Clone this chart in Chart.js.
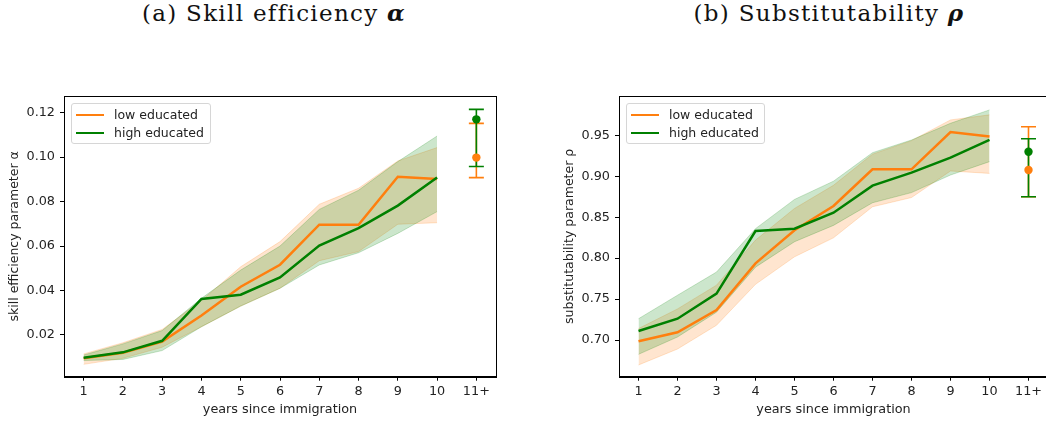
<!DOCTYPE html>
<html>
<head>
<meta charset="utf-8">
<script src="https://cdn.jsdelivr.net/npm/chart.js@4.4.1/dist/chart.umd.min.js"></script>
<style>
  body { margin: 0; width: 1046px; height: 422px; overflow: hidden; background: #fff; position: relative; }
  canvas { position: absolute; top: 90px; }
  .ttl { position: absolute; top: -1px; width: 400px; text-align: center; font-family: "DejaVu Serif", serif; font-size: 23px; letter-spacing: 1.3px; line-height: 28px; color: #111; }
  .leg { position: absolute; top: 103px; height: 39px; border: 1px solid #d6d6d6; border-radius: 3px; background: rgba(255,255,255,0.8);
         font-family: "DejaVu Sans", sans-serif; font-size: 12.5px; color: #222; }
  .row { position: absolute; left: 4px; height: 16px; line-height: 16px; white-space: nowrap; }
  .sw { display: inline-block; width: 28px; height: 0; border-top: 2.5px solid; vertical-align: middle; margin-right: 10px; position: relative; top: -1px; }
</style>
</head>
<body>
<div class="ttl" style="left:74px">(a) Skill efficiency <b><i>α</i></b></div>
<div class="ttl" style="left:629px">(b) Substitutability <b><i>ρ</i></b></div>
<canvas id="chartA" width="510" height="332" style="left:0px"></canvas>
<canvas id="chartB" width="510" height="332" style="left:555px"></canvas>
<div class="leg" style="left:71px;width:138px">
  <div class="row" style="top:3px"><span class="sw" style="border-color:#ff7f0e"></span>low educated</div>
  <div class="row" style="top:21px"><span class="sw" style="border-color:#008000"></span>high educated</div>
</div>
<div class="leg" style="left:626px;width:137px">
  <div class="row" style="top:3px"><span class="sw" style="border-color:#ff7f0e"></span>low educated</div>
  <div class="row" style="top:21px"><span class="sw" style="border-color:#008000"></span>high educated</div>
</div>
<script>
// categories
const years = ["1", "2", "3", "4", "5", "6", "7", "8", "9", "10", "11+"];

// (a) skill efficiency alpha, years 1..10
const alphaLow    = [0.0095, 0.012, 0.017, 0.0288, 0.0417, 0.0516, 0.0696, 0.0696, 0.0912, 0.0902];
const alphaLowUp  = [0.0115, 0.0165, 0.0225, 0.0355, 0.0507, 0.062, 0.0788, 0.086, 0.0983, 0.1043];
const alphaLowLo  = [0.0068, 0.0095, 0.0145, 0.0237, 0.033, 0.041, 0.0534, 0.0575, 0.0698, 0.0705];
const alphaHigh   = [0.0098, 0.0122, 0.0174, 0.0362, 0.0381, 0.0459, 0.0602, 0.0681, 0.0782, 0.0908];
const alphaHighUp = [0.011, 0.016, 0.022, 0.0365, 0.0492, 0.06, 0.0765, 0.0851, 0.098, 0.1095];
const alphaHighLo = [0.0085, 0.009, 0.013, 0.0237, 0.033, 0.041, 0.0515, 0.057, 0.0657, 0.0755];
// 11+ : [estimate, lower, upper]
const alphaLow11  = [0.0998, 0.0908, 0.1152];
const alphaHigh11 = [0.117, 0.0958, 0.1215];

// (b) substitutability rho, years 1..10
const rhoLow    = [0.6984, 0.7094, 0.7366, 0.7936, 0.834, 0.8637, 0.9085, 0.9085, 0.954, 0.9484];
const rhoLowUp  = [0.714, 0.738, 0.767, 0.822, 0.8607, 0.889, 0.927, 0.9435, 0.9688, 0.975];
const rhoLowLo  = [0.6695, 0.689, 0.718, 0.768, 0.8016, 0.8248, 0.8627, 0.874, 0.9064, 0.9035];
const rhoHigh   = [0.711, 0.726, 0.7566, 0.8331, 0.836, 0.8555, 0.8885, 0.9044, 0.9227, 0.9443];
const rhoHighUp = [0.726, 0.7547, 0.783, 0.836, 0.8717, 0.894, 0.9288, 0.9443, 0.9647, 0.981];
const rhoHighLo = [0.6825, 0.7037, 0.734, 0.789, 0.82, 0.84, 0.8676, 0.88, 0.9015, 0.9178];
const rhoLow11  = [0.9076, 0.875, 0.9605];
const rhoHigh11 = [0.930, 0.875, 0.9458];

// tick labels
const alphaTicks = [0.02, 0.04, 0.06, 0.08, 0.10, 0.12];
const rhoTicks   = [0.70, 0.75, 0.80, 0.85, 0.90, 0.95];

const ORANGE = "#ff7f0e";
const GREEN = "#008000";

// box around the plot area, like matplotlib
const frame = {
  id: "frame",
  afterDraw(chart) {
    const a = chart.chartArea, ctx = chart.ctx;
    ctx.save();
    ctx.strokeStyle = "#000";
    ctx.lineWidth = 1;
    ctx.strokeRect(Math.round(a.left) + 0.5, Math.round(a.top) + 0.5, Math.round(a.right - a.left), Math.round(a.bottom - a.top));
    ctx.restore();
  }
};

function band(up, lo, color, order) {
  return [
    { data: up, fill: "+1", backgroundColor: color, borderColor: color, borderWidth: 1, pointRadius: 0, order: order },
    { data: lo, fill: false, backgroundColor: color, borderColor: color, borderWidth: 1, pointRadius: 0, order: order }
  ];
}

function errBar(v, color, order) {
  return [
    { data: [{ x: "11+", y: v[1] }, { x: "11+", y: v[2] }], borderColor: color, borderWidth: 1.6,
      pointStyle: "line", pointRadius: 7.5, pointBorderColor: color, pointBorderWidth: 1.6, order: order },
    { data: [{ x: "11+", y: v[0] }], showLine: false, pointStyle: "circle", pointRadius: 4.2,
      pointBackgroundColor: color, pointBorderColor: color, pointBorderWidth: 0, order: order - 2 }
  ];
}

function makeChart(id, low, lowUp, lowLo, high, highUp, highLo, low11, high11, yMin, yMax, yTicks, yTitle, padRight) {
  const datasets = [].concat(
    band(lowUp, lowLo, "rgba(255,127,14,0.2)", 20),
    band(highUp, highLo, "rgba(0,128,0,0.2)", 18),
    [{ data: low, borderColor: ORANGE, borderWidth: 2.5, pointRadius: 0, fill: false, order: 10 },
     { data: high, borderColor: GREEN, borderWidth: 2.5, pointRadius: 0, fill: false, order: 9 }],
    errBar(low11, ORANGE, 8),
    errBar(high11, GREEN, 7)
  );
  return new Chart(document.getElementById(id), {
    type: "line",
    data: { labels: years, datasets: datasets },
    plugins: [frame],
    options: {
      responsive: false,
      animation: false,
      layout: { autoPadding: false, padding: { top: 6, right: padRight, bottom: 0, left: 0 } },
      elements: { line: { tension: 0 } },
      plugins: { legend: { display: false }, tooltip: { enabled: false } },
      scales: {
        x: {
          type: "category",
          offset: true,
          grid: { offset: false, drawOnChartArea: false, tickLength: 4, tickColor: "#000" },
          border: { color: "#000" },
          ticks: { color: "#222", padding: 3, maxRotation: 0, font: { family: "DejaVu Sans", size: 12.8 } },
          title: { display: true, text: "years since immigration", color: "#222", padding: { top: 0, bottom: 4.5 },
                   font: { family: "DejaVu Sans", size: 12.8 } },
          afterFit(s) { s.height = 45.3; s.paddingLeft = 0; s.paddingRight = 0; }
        },
        y: {
          min: yMin,
          max: yMax,
          grid: { drawOnChartArea: false, tickLength: 4, tickColor: "#000" },
          border: { color: "#000" },
          afterBuildTicks(s) { s.ticks = yTicks.map(v => ({ value: v })); },
          ticks: { color: "#222", padding: 5, font: { family: "DejaVu Sans", size: 12.8 },
                   callback: v => v.toFixed(2) },
          title: { display: true, text: yTitle, color: "#222", padding: { top: 7.5, bottom: 0 },
                   font: { family: "DejaVu Sans", size: 12.5 } },
          afterFit(s) { s.width = 64; s.paddingTop = 0; s.paddingBottom = 0; }
        }
      }
    }
  });
}

makeChart("chartA", alphaLow, alphaLowUp, alphaLowLo, alphaHigh, alphaHighUp, alphaHighLo,
          alphaLow11, alphaHigh11, 0.00124, 0.1275, alphaTicks, "skill efficiency parameter α", 14);
makeChart("chartB", rhoLow, rhoLowUp, rhoLowLo, rhoHigh, rhoHighUp, rhoHighLo,
          rhoLow11, rhoHigh11, 0.6552, 0.998, rhoTicks, "substitutability parameter ρ", 17);
</script>
</body>
</html>
